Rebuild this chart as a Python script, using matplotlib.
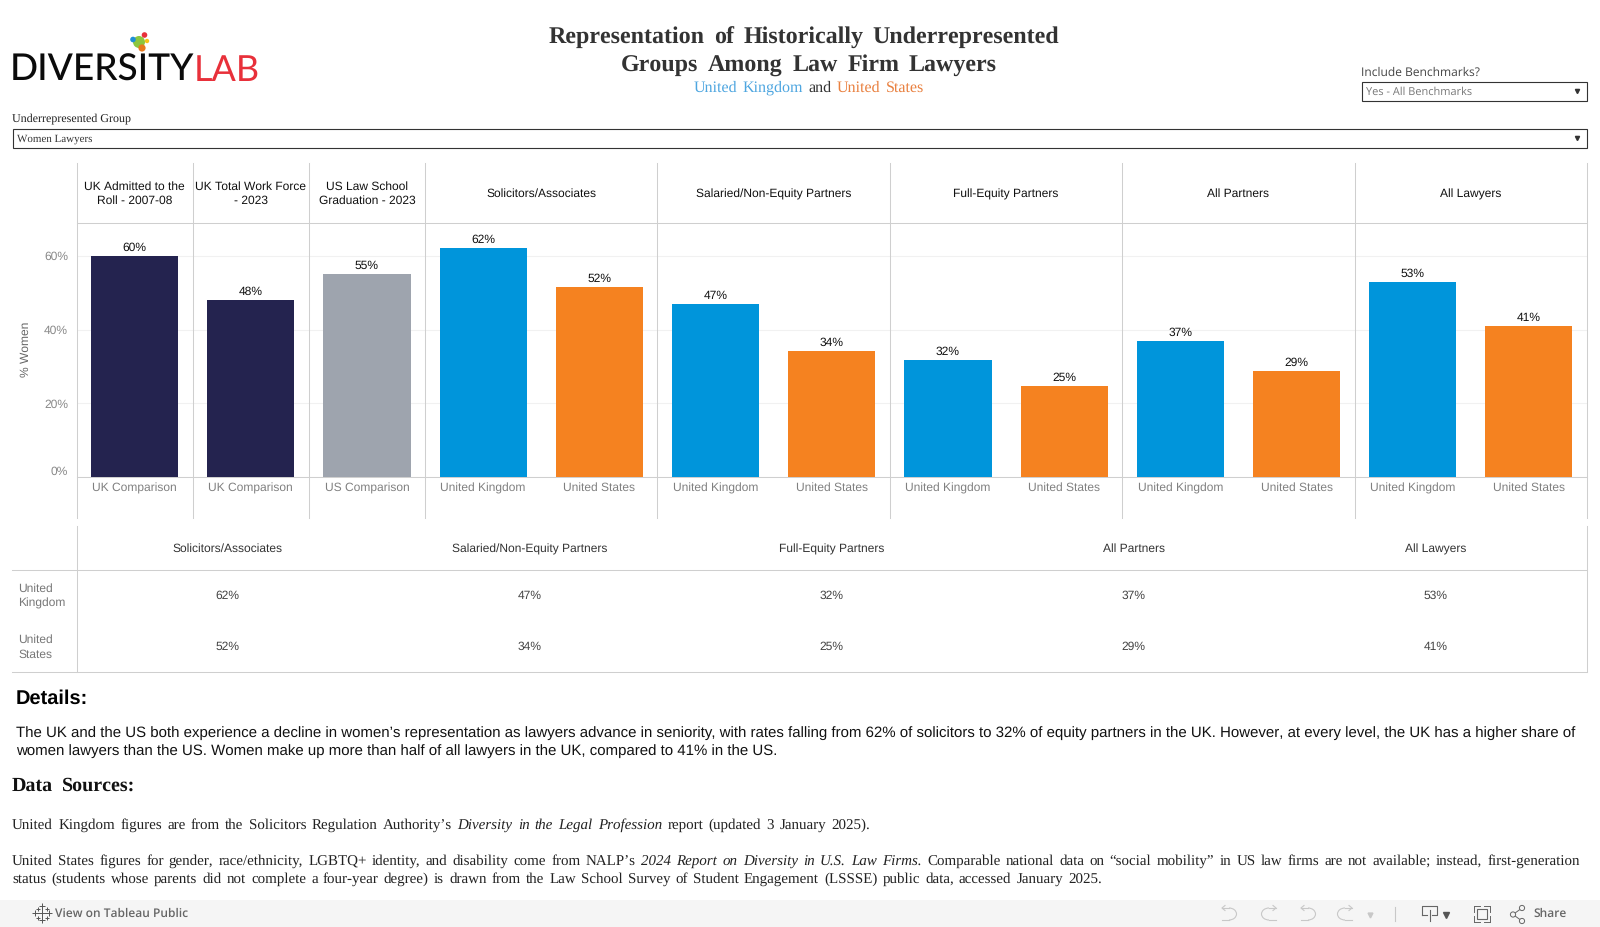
import matplotlib
matplotlib.use('Agg')
import matplotlib.pyplot as plt
from matplotlib.patches import Circle, Rectangle, Arc

plt.rcParams['text.hinting'] = 'none'
plt.rcParams['text.hinting_factor'] = 1

# data
panels = ['UK Admitted to the\nRoll - 2007-08', 'UK Total Work Force\n- 2023', 'US Law School\nGraduation - 2023',
          'Solicitors/Associates', 'Salaried/Non-Equity Partners', 'Full-Equity Partners', 'All Partners', 'All Lawyers']
panel_sizes = [1, 1, 1, 2, 2, 2, 2, 2]
bar_labels = ['UK Comparison', 'UK Comparison', 'US Comparison',
              'United Kingdom', 'United States', 'United Kingdom', 'United States', 'United Kingdom',
              'United States', 'United Kingdom', 'United States', 'United Kingdom', 'United States']
bar_values = [60.0, 48.0, 55.2, 62.2, 51.6, 47.0, 34.2, 31.7, 24.7, 36.9, 28.9, 53.0, 41.1]
bar_kinds = ['uk_bench', 'uk_bench', 'us_bench', 'uk', 'us', 'uk', 'us', 'uk', 'us', 'uk', 'us', 'uk', 'us']
yticks = [0, 20, 40, 60]

table_cols = panels[3:]
table_uk = [62, 47, 32, 37, 53]
table_us = [52, 34, 25, 29, 41]

colors = {'uk_bench': '#24234f', 'us_bench': '#9ea4ae', 'uk': '#0095db', 'us': '#f58220'}
LINE = '#cfcfcf'
LW = 0.75
SANS = 'Liberation Sans'
SERIF = 'Liberation Serif'
FS = 8.6

W, H = 1600, 927
fig = plt.figure(figsize=(W / 100, H / 100), dpi=100, facecolor='white')

# overlay in pixel coordinates for all the dashboard furniture
ov = fig.add_axes([0, 0, 1, 1], zorder=5)
ov.set_xlim(0, W); ov.set_ylim(H, 0); ov.axis('off'); ov.patch.set_alpha(0)
renderer = fig.canvas.get_renderer()


def spread(words, x0, x1, y, **kw):
    # words are (text, extra style) pairs, stretched to run from x0 to x1
    items = [ov.text(0, y, w, va='baseline', ha='left', **{**kw, **st}) for w, st in words]
    widths = [t.get_window_extent(renderer).width for t in items]
    gap = (x1 - x0 - sum(widths)) / max(len(items) - 1, 1)
    x = x0
    for t, w in zip(items, widths):
        t.set_x(x)
        # agg truncates the glyph box when it places the bitmap, undo that so words share a baseline
        _, h, d = renderer.get_text_width_height_descent(t.get_text(), t.get_fontproperties(), False)
        t.set_y(y + int(h) - int(h - d) - d)
        x += w + gap


def plain(s, **st):
    return [(w, st) for w in s.split()]


# ---- logo
ov.text(10, 81, 'DIVERSITY', family='Lato', fontweight='medium', fontsize=26.5, color='#0b0b0b', va='baseline', ha='left')
ov.text(194, 81, 'LAB', family='Lato', fontsize=26, color='#e8303a', va='baseline', ha='left')
for cx, cy, r, c in [(139, 42, 6, '#8cc63f'), (144.5, 35, 2.8, '#e8303a'), (133, 39.5, 2.8, '#1f8fd6'),
                     (147, 41, 2.2, '#f5c518'), (142, 48, 3.6, '#e8791e')]:
    ov.add_patch(Circle((cx, cy), r, color=c, lw=0))

# ---- title
title_kw = dict(family=SERIF, fontweight='bold', fontsize=17, color='#333333')
spread(plain('Representation of Historically Underrepresented'), 549, 1059, 43, **title_kw)
spread(plain('Groups Among Law Firm Lawyers'), 621, 997, 71, **title_kw)
spread(plain('United Kingdom', color='#4ea6e0') + plain('and', color='#333333') + plain('United States', color='#e9803f'),
       694, 924, 92, family=SERIF, fontsize=11.5)

# ---- filters
ov.text(12, 119, 'Underrepresented Group', family=SERIF, fontsize=8.6, color='#222222', va='center')
ov.add_patch(Rectangle((13, 128.5), 1574, 19, fc='white', ec='#333333', lw=0.8))
ov.text(17, 139, 'Women Lawyers', family=SERIF, fontsize=7.8, color='#333333', va='center')
ov.plot([1576.5], [138], marker='v', ms=3, color='#333333')
ov.text(1361, 73, 'Include Benchmarks?', family='Open Sans', fontsize=8.6, color='#444444', va='center')
ov.add_patch(Rectangle((1362, 81.5), 225, 19, fc='white', ec='#333333', lw=0.8))
ov.text(1366, 92, 'Yes - All Benchmarks', family='Open Sans', fontsize=7.8, color='#777777', va='center')
ov.plot([1576.5], [91], marker='v', ms=3, color='#333333')

# ---- bar chart
left, right, top, zero = 76.5, 1587, 223, 477
px_per_pct = 221 / 60
ax = fig.add_axes([left / W, 1 - zero / H, (right - left) / W, (zero - top) / H], zorder=2)
ax.patch.set_alpha(0)
xs = list(range(len(bar_values)))
ax.bar(xs, bar_values, width=0.75, color=[colors[k] for k in bar_kinds], zorder=3)
ax.set_xlim(-0.5, len(xs) - 0.5)
ax.set_ylim(0, (zero - top) / px_per_pct)
for x, v in zip(xs, bar_values):
    ax.annotate(f'{v:.0f}%', (x, v), xytext=(0, 2.5), textcoords='offset pixels', ha='center', va='bottom',
                family=SANS, fontsize=FS, color='#111111', zorder=4)
ax.set_yticks(yticks, [f'{t}%' for t in yticks], family=SANS, fontsize=FS, color='#888888')
ax.get_yticklabels()[0].set_va('bottom')
ax.set_xticks(xs, bar_labels, family=SANS, fontsize=FS, color='#808080')
ax.tick_params(length=0)
ax.tick_params(axis='x', pad=4)
ax.tick_params(axis='y', pad=6)
ax.grid(axis='y', color='#f1f1f1', lw=LW, zorder=0)
for s in ['top', 'right', 'left']:
    ax.spines[s].set_visible(False)
ax.spines['bottom'].set_color(LINE)
ax.spines['bottom'].set_linewidth(LW)
ov.text(26, 349, '% Women', family=SANS, fontsize=FS, color='#666666', rotation=90, ha='center', va='center')

# panel frames and headers
band = (right - left) / len(xs)
edge = left
ov.plot([left, left], [163, 518], color=LINE, lw=LW)
for name, n in zip(panels, panel_sizes):
    ov.text(edge + band * n / 2, 194, name, family=SANS, fontsize=FS, color='#111111', ha='center', va='center',
            linespacing=1.35)
    edge += band * n
    ov.plot([edge, edge], [163, 518], color=LINE, lw=LW)
ov.plot([left, right], [223, 223], color=LINE, lw=LW)

# ---- table
ov.plot([left, left], [526, 672], color=LINE, lw=LW)
ov.plot([right, right], [526, 672], color=LINE, lw=LW)
ov.plot([12, right], [570, 570], color=LINE, lw=LW)
ov.plot([12, right], [672, 672], color=LINE, lw=LW)
col_w = (right - left) / len(table_cols)
for i, name in enumerate(table_cols):
    cx = left + col_w * (i + 0.5)
    ov.text(cx, 549, name, family=SANS, fontsize=FS, color='#333333', ha='center', va='center')
    ov.text(cx, 596, f'{table_uk[i]}%', family=SANS, fontsize=FS, color='#444444', ha='center', va='center')
    ov.text(cx, 647, f'{table_us[i]}%', family=SANS, fontsize=FS, color='#444444', ha='center', va='center')
ov.text(18, 596, 'United\nKingdom', family=SANS, fontsize=FS, color='#777777', va='center', linespacing=1.4)
ov.text(18, 647, 'United\nStates', family=SANS, fontsize=FS, color='#777777', va='center', linespacing=1.4)

# ---- details
ov.text(16, 704, 'Details:', family=SANS, fontweight='bold', fontsize=14.5, color='#000000', va='baseline')
detail_1 = ('The UK and the US both experience a decline in women\u2019s representation as lawyers advance in seniority, '
            'with rates falling from 62% of solicitors to 32% of equity partners in the UK. However, at every level, '
            'the UK has a higher share of')
detail_2 = 'women lawyers than the US. Women make up more than half of all lawyers in the UK, compared to 41% in the US.'
t1 = ov.text(16, 737, detail_1, family=SANS, fontsize=10.5, color='#111111', va='baseline')
size = 10.5 * (1569 - 16) / t1.get_window_extent(renderer).width
t1.set_fontsize(size)
ov.text(16, 755, detail_2, family=SANS, fontsize=size, color='#111111', va='baseline')

# ---- sources
spread(plain('Data Sources:'), 12, 135, 791, family=SERIF, fontweight='bold', fontsize=14.5, color='#111111')
src = dict(family=SERIF, fontsize=10.8, color='#222222')
spread(plain('United Kingdom figures are from the Solicitors Regulation Authority\u2019s')
       + plain('Diversity in the Legal Profession', style='italic')
       + plain('report (updated 3 January 2025).'), 12, 870, 829, **src)
spread(plain('United States figures for gender, race/ethnicity, LGBTQ+ identity, and disability come from NALP\u2019s')
       + plain('2024 Report on Diversity in U.S. Law Firms.', style='italic')
       + plain('Comparable national data on \u201csocial mobility\u201d in US law firms are not available; instead, first-generation'),
       12, 1580, 865, **src)
spread(plain('status (students whose parents did not complete a four-year degree) is drawn from the Law School Survey of '
             'Student Engagement (LSSSE) public data, accessed January 2025.'), 12, 1102, 883, **src)

# ---- toolbar
ov.add_patch(Rectangle((0, 900), W, 27, fc='#f5f5f5', ec='none'))
ov.text(55, 914, 'View on Tableau Public', family='Open Sans', fontsize=8.8, fontweight='semibold', color='#666666', va='center')
ov.text(1533, 914, 'Share', family='Open Sans', fontsize=8.8, fontweight='semibold', color='#666666', va='center')
for dx, dy, s in [(0, 0, 7), (-7, 0, 4), (7, 0, 4), (0, -7, 4), (0, 7, 4), (-4.5, -4.5, 3), (4.5, -4.5, 3), (-4.5, 4.5, 3), (4.5, 4.5, 3)]:
    ov.plot([42 + dx], [913 + dy], marker='+', ms=s, mew=0.7, color='#555555')
# undo / redo family
for cx, flip in [(1229, 1), (1269, -1), (1308, 1), (1345, -1)]:
    ov.add_patch(Arc((cx, 914), 15, 12, theta1=-90 if flip > 0 else 90, theta2=90 if flip > 0 else 270, color='#c8c8c8', lw=0.8))
    ov.plot([cx, cx - 7 * flip], [908, 908], color='#c8c8c8', lw=0.8)
    ov.plot([cx, cx - 7 * flip], [920, 920], color='#c8c8c8', lw=0.8)
    ov.plot([cx - 7 * flip + 3 * flip, cx - 7 * flip, cx - 7 * flip + 3 * flip], [905.5, 908, 910.5], color='#c8c8c8', lw=0.8)
ov.plot([1370], [915], marker='v', ms=3.5, color='#c8c8c8')
ov.plot([1395, 1395], [907, 921], color='#c8c8c8', lw=0.8)
# download, fullscreen, share glyphs
ov.plot([1422, 1422, 1437, 1437, 1432], [915, 906, 906, 915, 915], color='#666666', lw=0.8)
ov.plot([1422, 1427], [915, 915], color='#666666', lw=0.8)
ov.plot([1429.5, 1429.5], [910, 921], color='#666666', lw=0.8)
ov.plot([1446], [915], marker='v', ms=4, color='#555555')
ov.add_patch(Rectangle((1477, 909), 10, 10, fc='none', ec='#666666', lw=0.8))
for x0, x1, y0, y1 in [(1474, 1480, 906, 906), (1484, 1490, 906, 906), (1474, 1480, 922, 922), (1484, 1490, 922, 922),
                       (1474, 1474, 906, 912), (1490, 1490, 906, 912), (1474, 1474, 916, 922), (1490, 1490, 916, 922)]:
    ov.plot([x0, x1], [y0, y1], color='#666666', lw=0.7)
ov.plot([1522, 1513, 1522], [908, 914.5, 921], color='#666666', lw=0.7)
for cx, cy in [(1513, 914.5), (1522, 908), (1522, 921)]:
    ov.add_patch(Circle((cx, cy), 2.6, fc='#f5f5f5', ec='#666666', lw=0.7, zorder=6))

fig.savefig('out.png', dpi=100)
